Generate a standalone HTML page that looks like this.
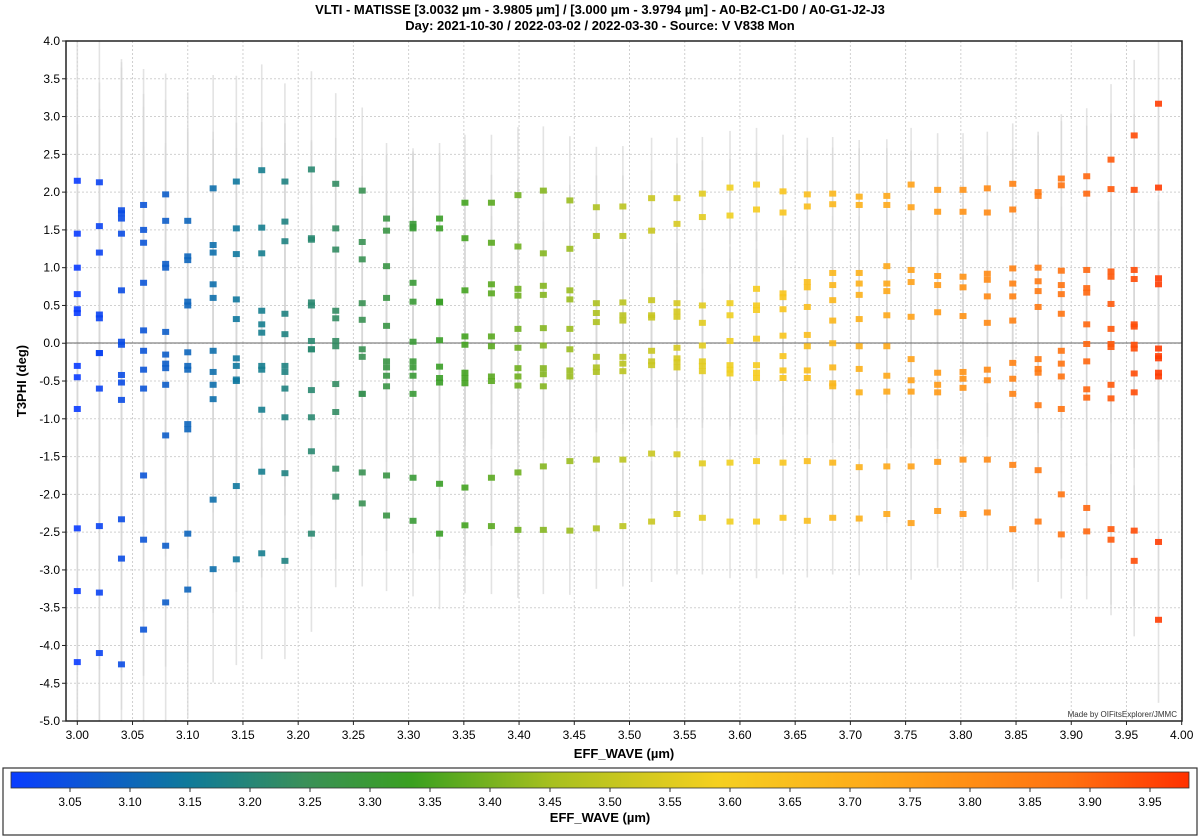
<!DOCTYPE html>
<html><head><meta charset="utf-8">
<style>
body{margin:0;background:#fff;font-family:"Liberation Sans",sans-serif;}
svg{display:block}
</style></head>
<body>
<svg id="chart" width="1200" height="838" viewBox="0 0 1200 838" xmlns="http://www.w3.org/2000/svg">
<defs>
<linearGradient id="cmap" x1="0" x2="1" y1="0" y2="0">
<stop offset="0" stop-color="#0a3cff"/>
<stop offset="0.15" stop-color="#0f7a9a"/>
<stop offset="0.25" stop-color="#3a9058"/>
<stop offset="0.34" stop-color="#3aa020"/>
<stop offset="0.46" stop-color="#a8c020"/>
<stop offset="0.6" stop-color="#f5d020"/>
<stop offset="0.75" stop-color="#ffa418"/>
<stop offset="0.9" stop-color="#ff7010"/>
<stop offset="1" stop-color="#ff3000"/>
</linearGradient>
</defs>
<text x="600" y="14" text-anchor="middle" font-size="13" font-weight="bold">VLTI - MATISSE [3.0032 µm - 3.9805 µm] / [3.000 µm - 3.9794 µm] - A0-B2-C1-D0 / A0-G1-J2-J3</text>
<text x="600" y="30" text-anchor="middle" font-size="13" font-weight="bold">Day: 2021-10-30 / 2022-03-02 / 2022-03-30 - Source: V V838 Mon</text>
<g id="grid"></g>
<g id="errs"></g>
<line x1="66" x2="1182" y1="343" y2="343" stroke="#666" stroke-width="1"/>
<g id="pts"></g>
<rect x="66" y="41" width="1116" height="680" fill="none" stroke="#222" stroke-width="1.5"/>
<g id="axes"></g>
<text x="1177" y="717" text-anchor="end" font-size="8" fill="#333">Made by OIFitsExplorer/JMMC</text>
<text transform="translate(26,381) rotate(-90)" text-anchor="middle" font-size="13" font-weight="bold">T3PHI (deg)</text>
<text x="624" y="758" text-anchor="middle" font-size="13" font-weight="bold">EFF_WAVE (µm)</text>
<rect x="3" y="768" width="1194" height="67" fill="#fff" stroke="#333" stroke-width="1.2"/>
<rect x="11" y="772" width="1178" height="16" fill="url(#cmap)" stroke="#333" stroke-width="0.8"/>
<g id="cbticks"></g>
<text x="600" y="822" text-anchor="middle" font-size="13" font-weight="bold">EFF_WAVE (µm)</text>
</svg>
<script>
const wavelengths=[3.000,3.020,3.040,3.060,3.080,3.100,3.123,3.144,3.167,3.188,3.212,3.234,3.258,3.280,3.304,3.328,3.351,3.375,3.399,3.422,3.446,3.470,3.494,3.520,3.543,3.566,3.591,3.615,3.639,3.661,3.684,3.708,3.733,3.755,3.779,3.802,3.824,3.847,3.870,3.891,3.914,3.936,3.957,3.979];
const t3phi=[
[2.15,1.45,1.0,0.65,0.45,0.4,-0.3,-0.45,-0.87,-2.45,-3.28,-4.22],
[2.13,1.55,1.2,0.38,0.33,-0.13,-0.13,-0.6,-2.42,-3.3,-4.1],
[1.76,1.72,1.65,1.45,0.7,0.02,-0.02,-0.42,-0.52,-0.75,-2.33,-2.85,-4.25],
[1.83,1.5,1.33,0.8,0.17,-0.1,-0.35,-0.6,-1.75,-2.6,-3.79],
[1.97,1.62,1.05,1.0,0.15,-0.15,-0.27,-0.33,-0.55,-1.22,-2.68,-3.43],
[1.62,1.15,1.1,0.55,0.5,-0.12,-0.3,-0.35,-1.07,-1.14,-2.52,-3.26],
[2.05,1.3,1.2,0.78,0.6,-0.1,-0.38,-0.55,-0.74,-2.07,-2.99],
[2.14,1.52,1.18,0.58,0.32,-0.2,-0.3,-0.48,-0.5,-1.89,-2.86],
[2.29,1.53,1.19,0.43,0.25,0.14,-0.35,-0.3,-0.88,-1.7,-2.78],
[2.14,1.61,1.35,0.39,0.12,-0.3,-0.38,-0.6,-0.98,-1.72,-2.88],
[2.3,1.37,1.39,0.54,0.5,0.03,-0.08,-0.08,-0.62,-0.98,-1.43,-2.52],
[2.11,1.52,1.24,0.43,0.33,0.03,-0.04,-0.54,-0.91,-1.66,-2.03],
[2.02,1.34,1.11,0.53,0.31,-0.08,-0.18,-0.67,-0.67,-1.71,-2.12],
[1.65,1.49,1.02,0.6,0.23,-0.24,-0.32,-0.43,-0.57,-1.75,-2.28],
[1.58,1.52,1.54,0.8,0.55,0.02,-0.24,-0.32,-0.43,-0.67,-1.78,-2.35],
[1.65,1.52,0.55,0.54,0.04,-0.31,-0.46,-0.52,-1.86,-2.52],
[1.86,1.39,0.7,0.09,-0.02,-0.39,-0.53,-0.46,-1.91,-2.41],
[1.86,1.33,0.78,0.66,0.09,-0.04,-0.44,-0.5,-1.78,-2.42],
[1.96,1.28,0.72,0.63,0.19,-0.06,-0.33,-0.44,-0.56,-1.71,-2.47],
[2.02,1.19,0.76,0.64,0.2,-0.03,-0.33,-0.41,-0.57,-1.63,-2.47],
[1.89,1.25,0.7,0.58,0.19,-0.08,-0.36,-0.44,-1.56,-2.48],
[1.8,1.42,0.53,0.4,0.28,-0.18,-0.32,-0.38,-1.54,-2.45],
[1.81,1.42,0.54,0.37,0.3,-0.18,-0.27,-0.37,-1.54,-2.42],
[1.92,1.49,0.57,0.37,0.34,-0.1,-0.24,-0.29,-1.46,-2.36],
[1.92,1.58,0.53,0.42,0.35,-0.06,-0.2,-0.25,-0.32,-1.47,-2.26],
[1.98,1.67,0.5,0.27,-0.03,-0.24,-0.37,-0.3,-1.59,-2.31],
[2.06,1.69,0.53,0.37,0.03,-0.29,-0.35,-0.4,-1.58,-2.36],
[2.1,1.77,0.72,0.5,0.44,0.06,-0.29,-0.39,-0.46,-1.56,-2.36],
[2.01,1.73,0.66,0.61,0.45,0.1,-0.17,-0.36,-0.46,-1.58,-2.31],
[1.97,1.81,0.81,0.74,0.48,0.11,-0.04,-0.36,-0.46,-1.56,-2.35],
[1.98,1.84,0.93,0.77,0.57,0.3,0.0,-0.32,-0.53,-0.57,-1.58,-2.31],
[1.94,1.83,0.93,0.79,0.64,0.32,-0.04,-0.34,-0.65,-1.64,-2.32],
[1.95,1.83,1.02,0.79,0.69,0.37,-0.04,-0.43,-0.64,-1.63,-2.26],
[2.1,1.8,0.97,0.81,0.35,-0.21,-0.49,-0.64,-1.63,-2.38],
[2.03,1.74,0.89,0.77,0.41,-0.39,-0.55,-0.65,-1.57,-2.22],
[2.03,1.74,0.88,0.74,0.36,-0.38,-0.47,-0.59,-1.54,-2.26],
[2.05,1.73,0.92,0.84,0.62,0.27,-0.35,-0.49,-1.54,-2.24],
[2.11,1.77,0.99,0.79,0.62,0.3,-0.26,-0.47,-0.67,-1.61,-2.46],
[2.0,1.95,1.0,0.82,0.69,0.48,-0.21,-0.34,-0.39,-0.82,-1.68,-2.36],
[2.18,2.09,0.96,0.77,0.65,0.39,-0.1,-0.27,-0.44,-0.87,-2.0,-2.53],
[2.21,1.98,0.97,0.73,0.67,0.25,-0.01,-0.24,-0.61,-0.72,-2.18,-2.49],
[2.43,2.04,0.95,0.88,0.52,0.19,-0.01,-0.05,-0.55,-0.73,-2.46,-2.6],
[2.75,2.03,0.97,0.85,0.25,0.22,-0.02,-0.07,-0.4,-0.65,-2.48,-2.88],
[3.17,2.06,0.86,0.78,-0.07,-0.17,-0.2,-0.39,-0.44,-2.63,-3.66]
];
const errHalf=[1.9,1.9,2.0,1.8,1.6,1.7,1.5,1.4,1.4,1.3,1.3,1.2,1.1,1.0,1.0,1.0,0.9,0.9,0.9,0.85,0.85,0.8,0.8,0.8,0.8,0.75,0.75,0.75,0.75,0.75,0.75,0.75,0.75,0.75,0.75,0.75,0.75,0.8,0.8,0.85,0.9,1.0,1.0,1.1];
const yTicks=[-5,-4.5,-4,-3.5,-3,-2.5,-2,-1.5,-1,-0.5,0,0.5,1,1.5,2,2.5,3,3.5,4];
const xTicks=[3.00,3.05,3.10,3.15,3.20,3.25,3.30,3.35,3.40,3.45,3.50,3.55,3.60,3.65,3.70,3.75,3.80,3.85,3.90,3.95,4.00];
const cbTicks=[3.05,3.10,3.15,3.20,3.25,3.30,3.35,3.40,3.45,3.50,3.55,3.60,3.65,3.70,3.75,3.80,3.85,3.90,3.95];

const NS="http://www.w3.org/2000/svg";
const X=v=>77.3+(v-3)*1104.4;
const Y=v=>41+(4-v)*75.56;
const CB=v=>10+(v-3)*1200;
const stops=[[0,[10,60,255]],[0.15,[15,122,154]],[0.25,[58,144,88]],[0.34,[58,160,32]],[0.46,[168,192,32]],[0.6,[245,208,32]],[0.75,[255,164,24]],[0.9,[255,112,16]],[1,[255,48,0]]];
function cmap(w){let t=Math.max(0,Math.min(1,(w-3)/1));for(let i=1;i<stops.length;i++){if(t<=stops[i][0]){const a=stops[i-1],b=stops[i];const f=(t-a[0])/(b[0]-a[0]);const c=a[1].map((x,k)=>Math.round(x+(b[1][k]-x)*f));return `rgb(${c.join(',')})`;}}return 'rgb(255,48,0)';}
function mk(tag,attrs,parent){const e=document.createElementNS(NS,tag);for(const k in attrs)e.setAttribute(k,attrs[k]);parent.appendChild(e);return e;}
const grid=document.getElementById('grid'),axes=document.getElementById('axes'),errs=document.getElementById('errs'),pts=document.getElementById('pts'),cbt=document.getElementById('cbticks');
yTicks.forEach(v=>{
  const g=mk('line',{x1:66,x2:1182,y1:Y(v),y2:Y(v),stroke:'#d0d0d0','stroke-dasharray':'2,2','stroke-width':1},grid);
  
  
  const t=mk('line',{x1:62,x2:66,y1:Y(v),y2:Y(v),stroke:'#222'},axes);
  
  
  const l=mk('text',{x:60,y:Y(v)+4,'text-anchor':'end','font-size':12},axes);
  l.textContent=v.toFixed(1);
  
  
});
xTicks.forEach(v=>{
  const g=mk('line',{x1:X(v),x2:X(v),y1:41,y2:721,stroke:'#d0d0d0','stroke-dasharray':'2,2','stroke-width':1},grid);
  
  
  const t=mk('line',{x1:X(v),x2:X(v),y1:721,y2:725,stroke:'#222'},axes);
  
  
  const l=mk('text',{x:X(v),y:739,'text-anchor':'middle','font-size':12},axes);
  l.textContent=v.toFixed(2);
  
  
});
wavelengths.forEach((w,i)=>{
  const col=cmap(w);
  t3phi[i].forEach(v=>{
    const e=mk('line',{x1:X(w),x2:X(w),y1:Math.max(41,Y(v+errHalf[i])),y2:Math.min(721,Y(v-errHalf[i])),stroke:'#d8d8d8','stroke-width':1.6,opacity:0.7},errs);
    
    
    const p=mk('rect',{x:X(w)-3.5,y:Y(v)-3,width:7,height:6,fill:col,opacity:0.9},pts);
    
    
  });
});
cbTicks.forEach(v=>{
  const t=mk('line',{x1:CB(v),x2:CB(v),y1:788,y2:792,stroke:'#333'},cbt);
  
  
  const l=mk('text',{x:CB(v),y:806,'text-anchor':'middle','font-size':12},cbt);
  l.textContent=v.toFixed(2);
  
  
});
</script>
</body></html>
